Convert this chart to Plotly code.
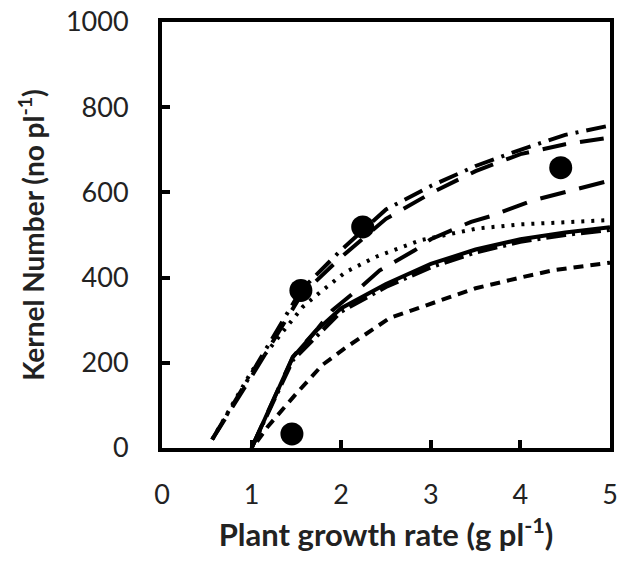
import plotly.graph_objects as go

# Observed points
obs_x = [1.45, 1.55, 2.24, 4.45]
obs_y = [33, 370, 519, 658]

# Model curves
a_x = [0.56, 1.0, 1.55, 2.0, 2.5, 3.0, 3.5, 4.0, 4.5, 5.0]
a_y = [20, 175, 370, 465, 560, 615, 662, 700, 735, 757]

b_x = [0.56, 1.0, 1.55, 2.0, 2.5, 3.0, 3.5, 4.0, 4.5, 5.0]
b_y = [20, 168, 358, 448, 538, 598, 650, 690, 713, 729]

c_x = [0.56, 1.0, 1.33, 1.57, 1.76, 2.05, 2.39, 2.89, 3.51, 4.0, 4.5, 5.0]
c_y = [20, 180, 268, 331, 365, 413, 449, 488, 515, 525, 530, 535]

d_x = [1.0, 1.46, 1.74, 1.9, 2.22, 2.43, 2.82, 3.0, 3.45, 3.68, 4.12, 4.35, 4.79, 5.0]
d_y = [0, 214, 281, 323, 378, 417, 464, 490, 531, 545, 580, 593, 617, 628]

e_x = [1.0, 1.46, 1.72, 2.0, 2.5, 3.0, 3.5, 4.0, 4.5, 5.0]
e_y = [0, 213, 275, 328, 385, 432, 466, 490, 506, 518]

f_x = [1.0, 1.46, 2.0, 2.5, 3.0, 3.5, 4.0, 4.5, 5.0]
f_y = [0, 206, 320, 378, 424, 459, 484, 500, 512]

g_x = [1.06, 1.18, 1.5, 1.79, 2.06, 2.54, 3.06, 3.5, 4.0, 4.36, 5.0]
g_y = [15, 50, 128, 195, 237, 305, 343, 375, 400, 417, 435]

x_ticks = [0, 1, 2, 3, 4, 5]
y_ticks = [0, 200, 400, 600, 800, 1000]

curves = [
    (a_x, a_y, "20px,8px,3px,8px"),
    (b_x, b_y, "24px,14px"),
    (c_x, c_y, "3px,7px"),
    (d_x, d_y, "26px,14px"),
    (f_x, f_y, "20px,6px,3px,6px"),
    (e_x, e_y, "solid"),
    (g_x, g_y, "10px,7px"),
]

fig = go.Figure()
for xs, ys, dash in curves:
    fig.add_trace(go.Scatter(x=xs, y=ys, mode="lines",
                             line=dict(color="black", width=4, dash=dash),
                             showlegend=False, hoverinfo="skip"))

fig.add_trace(go.Scatter(x=obs_x, y=obs_y, mode="markers",
                         marker=dict(color="black", size=23),
                         showlegend=False))

font_family = "Lato, Open Sans, sans-serif"
fig.update_layout(
    width=622, height=562,
    margin=dict(l=162, r=12, t=22, b=114),
    paper_bgcolor="white", plot_bgcolor="white",
    font=dict(family=font_family, color="#222", size=27),
)
fig.update_xaxes(
    range=[0, 5], tickvals=x_ticks, ticktext=[str(v) for v in x_ticks],
    showline=True, linecolor="black", linewidth=4, mirror=True,
    ticks="inside", ticklen=8, tickwidth=4, tickcolor="black",
    showgrid=False, zeroline=False, ticklabelstandoff=20, automargin=False,
    ticklabeloverflow="allow",
    title=dict(text="<b>Plant growth rate (g pl<sup>-1</sup>)</b>",
               font=dict(size=31, family=font_family), standoff=16),
)
fig.update_yaxes(
    range=[0, 1000], tickvals=y_ticks, ticktext=[str(v) for v in y_ticks],
    showline=True, linecolor="black", linewidth=4, mirror=True,
    ticks="inside", ticklen=8, tickwidth=4, tickcolor="black",
    showgrid=False, zeroline=False, ticklabelstandoff=24, automargin=False,
    ticklabeloverflow="allow",
    title=dict(text="<b>Kernel Number (no pl<sup>-1</sup>)</b>",
               font=dict(size=28, family=font_family), standoff=14),
)

fig.write_html("out.html",
               config={"displayModeBar": False},
               post_script="document.body.style.margin='0';document.body.style.overflow='hidden';")
